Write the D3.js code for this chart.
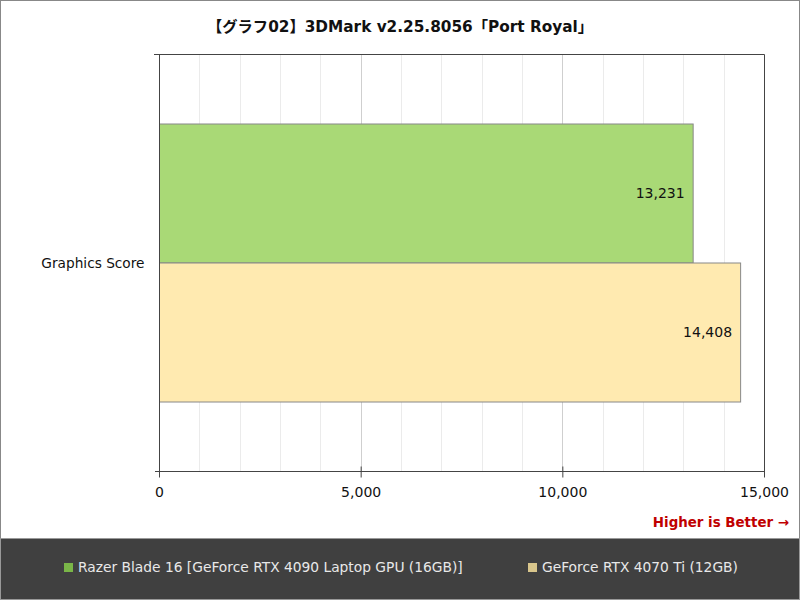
<!DOCTYPE html>
<html>
<head>
<meta charset="utf-8">
<script src="https://cdn.jsdelivr.net/npm/d3@7"></script>
<style>
  body { margin: 0; background: #fff; }
  svg text { font-family: "DejaVu Sans", Verdana, "Noto Sans CJK JP", sans-serif; }
</style>
</head>
<body>
<script>
// chart data
var categories = ["Graphics Score"];
var seriesNames = ["Razer Blade 16 [GeForce RTX 4090 Laptop GPU (16GB)]", "GeForce RTX 4070 Ti (12GB)"];
var seriesValues = [[13231], [14408]];
var xTicks = [0, 5000, 10000, 15000];
var titleText = "【グラフ02】3DMark v2.25.8056「Port Royal」";

var barFill = ["#a9d976", "#ffeab0"];
var swatchFill = ["#7ab648", "#d9c68c"];

var W = 800, H = 600;
var margin = { left: 159, right: 36, top: 54, bottom: 129 };
var pw = W - margin.left - margin.right, ph = H - margin.top - margin.bottom;

var svg = d3.select("body").append("svg").attr("width", W).attr("height", H);

svg.append("rect").attr("x", 0.5).attr("y", 0.5).attr("width", W - 1).attr("height", H - 1)
    .attr("fill", "#fff").attr("stroke", "#888");

svg.append("text").attr("x", 400).attr("y", 32).attr("text-anchor", "middle")
    .attr("font-size", 15.3).attr("font-weight", "bold").attr("fill", "#111")
    .text(titleText);

var x = d3.scaleLinear().domain([0, 15000]).range([0, pw]);
var y0 = d3.scaleBand().domain(categories).range([0, ph]).paddingInner(0).paddingOuter(0);
var y1 = d3.scaleBand().domain(d3.range(seriesNames.length)).range([ph / 6, ph * 5 / 6]);

var g = svg.append("g").attr("transform", "translate(" + margin.left + "," + margin.top + ")");

// grid lines, minor every 1000
g.selectAll(".minor").data(d3.range(1000, 15000, 1000).filter(function(d) { return d % 5000; }))
    .enter().append("line")
    .attr("x1", function(d) { return Math.round(x(d)) + 0.5; })
    .attr("x2", function(d) { return Math.round(x(d)) + 0.5; })
    .attr("y1", 0).attr("y2", ph).attr("stroke", "#ebebeb");
g.selectAll(".major").data([5000, 10000])
    .enter().append("line")
    .attr("x1", function(d) { return Math.round(x(d)) + 0.5; })
    .attr("x2", function(d) { return Math.round(x(d)) + 0.5; })
    .attr("y1", 0).attr("y2", ph).attr("stroke", "#cfcfcf");

// bars
categories.forEach(function(cat, ci) {
    var cg = g.append("g").attr("transform", "translate(0," + y0(cat) + ")");
    seriesNames.forEach(function(s, si) {
        var v = seriesValues[si][ci];
        cg.append("rect")
            .attr("x", 0.5).attr("y", y1(si) + 0.5)
            .attr("width", x(v)).attr("height", y1.bandwidth())
            .attr("fill", barFill[si]).attr("stroke", "#888");
        cg.append("text")
            .attr("x", x(v) - 8).attr("y", y1(si) + y1.bandwidth() / 2 + 5)
            .attr("text-anchor", "end").attr("font-size", 14).attr("fill", "#111")
            .text(d3.format(",")(v));
    });
});

// frame
g.append("path").attr("d", "M-5,0.5H" + (pw + 0.5) + "V" + ph)
    .attr("fill", "none").attr("stroke", "#444");

// y axis
var yAxis = g.append("g").attr("transform", "translate(0.5,0)");
yAxis.append("line").attr("y1", 0).attr("y2", ph).attr("stroke", "#444");
yAxis.selectAll("text").data(categories).enter().append("text")
    .attr("x", -15).attr("y", function(d) { return y0(d) + y0.bandwidth() / 2 + 5; })
    .attr("text-anchor", "end").attr("font-size", 13.7).attr("fill", "#111")
    .text(function(d) { return d; });

// x axis
var xAxis = g.append("g").attr("transform", "translate(0," + (ph + 0.5) + ")")
    .call(d3.axisBottom(x).tickValues(xTicks).tickSize(6).tickPadding(10).tickFormat(d3.format(",")));
xAxis.select(".domain").attr("d", "M-4,0H" + (pw + 1)).attr("stroke", "#444");
xAxis.selectAll(".tick line").attr("y1", -5).attr("y2", 6).attr("stroke", "#444");
xAxis.selectAll(".tick text").attr("font-size", 14).attr("fill", "#111")
    .attr("font-family", "DejaVu Sans, Verdana, sans-serif");

svg.append("text").attr("x", 789).attr("y", 527).attr("text-anchor", "end")
    .attr("font-size", 13.4).attr("font-weight", "bold").attr("fill", "#c00000")
    .text("Higher is Better →");

// legend
var leg = svg.append("g");
leg.append("rect").attr("x", 0.5).attr("y", 538.5).attr("width", W - 1).attr("height", 61)
    .attr("fill", "#404040").attr("stroke", "#999");
var legX = [64, 528];
seriesNames.forEach(function(s, i) {
    leg.append("rect").attr("x", legX[i]).attr("y", 563).attr("width", 9).attr("height", 9)
        .attr("fill", swatchFill[i]);
    leg.append("text").attr("x", legX[i] + 14).attr("y", 572)
        .attr("font-size", 13.8).attr("fill", "#e8e8e8").text(s);
});
</script>
</body>
</html>
